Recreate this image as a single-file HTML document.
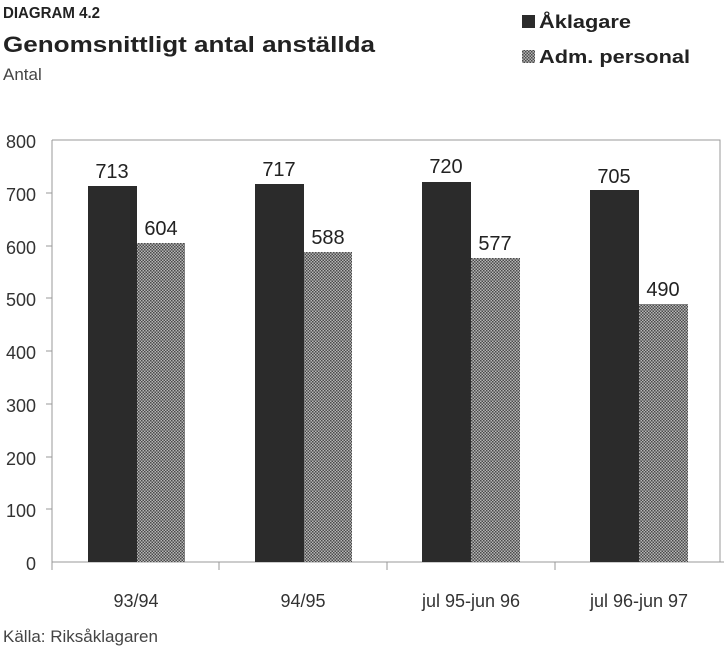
<!DOCTYPE html>
<html><head><meta charset="utf-8"><style>
body{margin:0;background:#fff;width:728px;height:653px;overflow:hidden}
svg{display:block}
</style></head><body>
<svg width="728" height="653" xmlns="http://www.w3.org/2000/svg" font-family="Liberation Sans, sans-serif">
<defs>
<pattern id="p" width="3" height="3" patternUnits="userSpaceOnUse">
<rect width="3" height="3" fill="#b5b5b5"/>
<rect width="1.5" height="1.5" fill="#4a4a4a"/>
<rect x="1.5" y="1.5" width="1.5" height="1.5" fill="#4a4a4a"/>
</pattern>
</defs>
<text x="3" y="18" font-size="16" font-weight="bold" fill="#222" textLength="97" lengthAdjust="spacingAndGlyphs">DIAGRAM 4.2</text>
<text x="3" y="52" font-size="22" font-weight="bold" fill="#222" textLength="372" lengthAdjust="spacingAndGlyphs">Genomsnittligt antal anställda</text>
<text x="3" y="80" font-size="17" fill="#444">Antal</text>
<rect x="522" y="15" width="13" height="13" fill="#2b2b2b"/>
<text x="539" y="28" font-size="18" font-weight="bold" fill="#222" textLength="92" lengthAdjust="spacingAndGlyphs">Åklagare</text>
<rect x="522" y="50" width="13" height="13" fill="url(#p)"/>
<text x="539" y="63" font-size="18" font-weight="bold" fill="#222" textLength="151" lengthAdjust="spacingAndGlyphs">Adm. personal</text>
<g stroke="#999" stroke-width="1" fill="none">
<path d="M52 140H720V562M52 140V570M52 562H724"/>
<path d="M46 193H52M46 246H52M46 298H52M46 351H52M46 404H52M46 457H52M46 509H52"/>
<path d="M219 562V570M387 562V570M555 562V570"/>
</g>
<g font-size="18" fill="#333" text-anchor="end">
<text x="36" y="148">800</text><text x="36" y="201">700</text><text x="36" y="254">600</text>
<text x="36" y="306">500</text><text x="36" y="359">400</text><text x="36" y="412">300</text>
<text x="36" y="465">200</text><text x="36" y="517">100</text><text x="36" y="570">0</text>
</g>
<g fill="#2b2b2b">
<rect x="88" y="186" width="49" height="376"/>
<rect x="255" y="184" width="49" height="378"/>
<rect x="422" y="182" width="49" height="380"/>
<rect x="590" y="190" width="49" height="372"/>
</g>
<g fill="url(#p)">
<rect x="137" y="243" width="48" height="319"/>
<rect x="304" y="252" width="48" height="310"/>
<rect x="471" y="258" width="49" height="304"/>
<rect x="639" y="304" width="49" height="258"/>
</g>
<g font-size="20" fill="#222" text-anchor="middle">
<text x="112" y="178">713</text><text x="161" y="235">604</text>
<text x="279" y="176">717</text><text x="328" y="244">588</text>
<text x="446" y="173">720</text><text x="495" y="250">577</text>
<text x="614" y="183">705</text><text x="663" y="296">490</text>
</g>
<g font-size="18" fill="#333" text-anchor="middle">
<text x="136" y="607">93/94</text><text x="303" y="607">94/95</text>
<text x="471" y="607">jul 95-jun 96</text><text x="639" y="607">jul 96-jun 97</text>
</g>
<text x="3" y="642" font-size="17" fill="#444">Källa: Riksåklagaren</text>
</svg>
</body></html>
